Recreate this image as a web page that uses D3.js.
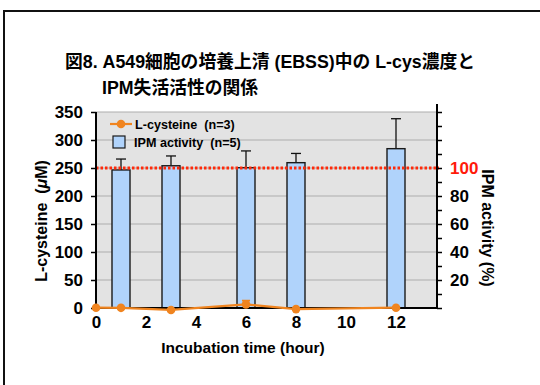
<!DOCTYPE html>
<html>
<head>
<meta charset="utf-8">
<script src="https://cdn.jsdelivr.net/npm/d3@7"></script>
<style>
  body { margin: 0; background: #fff; }
  svg text { font-family: "Liberation Sans", "Noto Sans CJK JP", sans-serif; font-weight: bold; }
</style>
</head>
<body>
<svg id="chart" width="540" height="385"></svg>
<script>
// data
var barTimes = [1, 3, 6, 8, 12];
var ipmActivity = [98.6, 101.6, 100.2, 103.8, 113.8];   // %
var ipmErr = [7.8, 7.0, 12.0, 6.6, 21.4];
var cysTimes = [0, 1, 3, 6, 8, 12];
var cysteine = [0.5, 0.3, -3.5, 6.5, -2, 0.5];             // uM
var cysErr = [0, 0, 0, 7, 0, 0];
var xTicks = [0, 2, 4, 6, 8, 10, 12];
var yTicks = [0, 50, 100, 150, 200, 250, 300, 350];
var rTicks = [20, 40, 60, 80, 100];

var svg = d3.select("svg#chart");

// outer frame
svg.append("path")
    .attr("d", "M4,385 V11 H540")
    .attr("fill", "none").attr("stroke", "#111").attr("stroke-width", 2);

// title
svg.append("text").attr("x", 65).attr("y", 68).attr("font-size", 17.8)
    .text("図8. A549細胞の培養上清 (EBSS)中の L-cys濃度と");
svg.append("text").attr("x", 102).attr("y", 94).attr("font-size", 17.8)
    .text("IPM失活活性の関係");

var pLeft = 96, pRight = 437, pTop = 112, pBottom = 308;

var x = d3.scaleLinear().domain([0, 13.64]).range([pLeft, pRight]),
    y = d3.scaleLinear().domain([0, 350]).range([pBottom, pTop]),
    yr = d3.scaleLinear().domain([0, 140]).range([pBottom, pTop]);

var g = svg.append("g");

g.append("rect")
    .attr("x", pLeft).attr("y", pTop)
    .attr("width", pRight - pLeft).attr("height", pBottom - pTop)
    .attr("fill", "#e3e3e3");

// gridlines
g.selectAll(".grid").data(yTicks.slice(1)).enter().append("line")
    .attr("class", "grid")
    .attr("x1", pLeft).attr("x2", pRight)
    .attr("y1", function(d) { return y(d); })
    .attr("y2", function(d) { return y(d); })
    .attr("stroke", "#adadad").attr("stroke-width", 1.2);

// bars with error bars (upper only)
var bw = 18;
var bars = g.selectAll(".bar").data(barTimes.map(function(t, i) {
    return {t: t, v: ipmActivity[i], e: ipmErr[i]};
})).enter();

bars.append("line")
    .attr("x1", function(d) { return x(d.t); })
    .attr("x2", function(d) { return x(d.t); })
    .attr("y1", function(d) { return yr(d.v); })
    .attr("y2", function(d) { return yr(d.v + d.e); })
    .attr("stroke", "#111").attr("stroke-width", 1.3);
bars.append("line")
    .attr("x1", function(d) { return x(d.t) - 5; })
    .attr("x2", function(d) { return x(d.t) + 5; })
    .attr("y1", function(d) { return yr(d.v + d.e); })
    .attr("y2", function(d) { return yr(d.v + d.e); })
    .attr("stroke", "#111").attr("stroke-width", 1.3);
bars.append("rect")
    .attr("x", function(d) { return x(d.t) - bw / 2; })
    .attr("y", function(d) { return yr(d.v); })
    .attr("width", bw)
    .attr("height", function(d) { return pBottom - yr(d.v); })
    .attr("fill", "#b0d3fb").attr("stroke", "#1a1a1a").attr("stroke-width", 1.4);

// 100% reference line
g.append("line")
    .attr("x1", pLeft).attr("x2", pRight + 2)
    .attr("y1", yr(100)).attr("y2", yr(100))
    .attr("stroke", "#ff2a0a").attr("stroke-width", 3)
    .attr("stroke-dasharray", "2.5,2");

// axes
var axL = svg.append("g").attr("transform", "translate(" + pLeft + ",0)")
    .call(d3.axisLeft(y).tickValues(yTicks).tickSize(5).tickPadding(8));
var axR = svg.append("g").attr("transform", "translate(" + pRight + ",0)")
    .call(d3.axisRight(yr).tickValues(d3.range(0, 141, 10)).tickSize(5).tickFormat(""));
svg.append("g").attr("transform", "translate(" + pRight + ",0)")
    .call(d3.axisRight(yr).tickValues(rTicks).tickSize(0).tickPadding(13))
    .call(function(s) { s.select(".domain").remove(); })
    .selectAll("text")
    .attr("fill", function(d) { return d === 100 ? "#ff1a0a" : "#000"; });
var axB = svg.append("g").attr("transform", "translate(0," + pBottom + ")")
    .call(d3.axisBottom(x).tickValues(xTicks).tickSize(0).tickPadding(8));

svg.selectAll(".domain").attr("stroke", "#000").attr("stroke-width", 2);
svg.selectAll(".tick line").attr("stroke", "#000").attr("stroke-width", 1.5);
svg.selectAll(".tick text").attr("font-size", 17).attr("font-family", null);
axL.select(".domain").attr("d", "M0," + pTop + "V" + pBottom);
axR.select(".domain").attr("d", "M0," + (pTop - 8) + "V" + pBottom);
axB.select(".domain").attr("d", "M" + pLeft + ",0H" + pRight);

// L-cysteine line (drawn over the x axis, as in the figure)
var orange = "#f0841f";
var cys = cysTimes.map(function(t, i) { return {t: t, v: cysteine[i], e: cysErr[i]}; });
svg.append("path").datum(cys)
    .attr("fill", "none").attr("stroke", orange).attr("stroke-width", 2.2)
    .attr("d", d3.line().x(function(d) { return x(d.t); }).y(function(d) { return y(d.v); }));
svg.selectAll(".cerr").data(cys.filter(function(d) { return d.e > 0; })).enter().append("path")
    .attr("fill", "none").attr("stroke", orange).attr("stroke-width", 1.5)
    .attr("d", function(d) {
        var cx = x(d.t), y0 = y(d.v), y1 = y(d.v + d.e);
        return "M" + cx + "," + y0 + "V" + y1 + "M" + (cx - 4) + "," + y1 + "H" + (cx + 4);
    });
svg.selectAll(".pt").data(cys).enter().append("circle")
    .attr("cx", function(d) { return x(d.t); })
    .attr("cy", function(d) { return y(d.v); })
    .attr("r", 4.3).attr("fill", orange);

// axis titles
svg.append("text")
    .attr("transform", "translate(47,221) rotate(-90)")
    .attr("text-anchor", "middle").attr("font-size", 16)
    .html('L-cysteine&#160;&#160;(<tspan font-style="italic">μ</tspan>M)');
svg.append("text")
    .attr("transform", "translate(482,228) rotate(90)")
    .attr("text-anchor", "middle").attr("font-size", 16)
    .text("IPM activity (%)");
svg.append("text")
    .attr("x", 243).attr("y", 353)
    .attr("text-anchor", "middle").attr("font-size", 15.5)
    .text("Incubation time (hour)");

// legend
var lg = svg.append("g").attr("font-size", 12.6);
lg.append("line").attr("x1", 110).attr("x2", 132).attr("y1", 124).attr("y2", 124)
    .attr("stroke", orange).attr("stroke-width", 2.2);
lg.append("circle").attr("cx", 121).attr("cy", 124).attr("r", 4.3).attr("fill", orange);
lg.append("text").attr("x", 135).attr("y", 129).html("L-cysteine&#160;&#160;(n=3)");
lg.append("rect").attr("x", 113).attr("y", 136).attr("width", 12).attr("height", 12)
    .attr("fill", "#b0d3fb").attr("stroke", "#1a1a1a").attr("stroke-width", 1.2);
lg.append("text").attr("x", 134).attr("y", 147).html("IPM activity&#160;&#160;(n=5)");
</script>
</body>
</html>
